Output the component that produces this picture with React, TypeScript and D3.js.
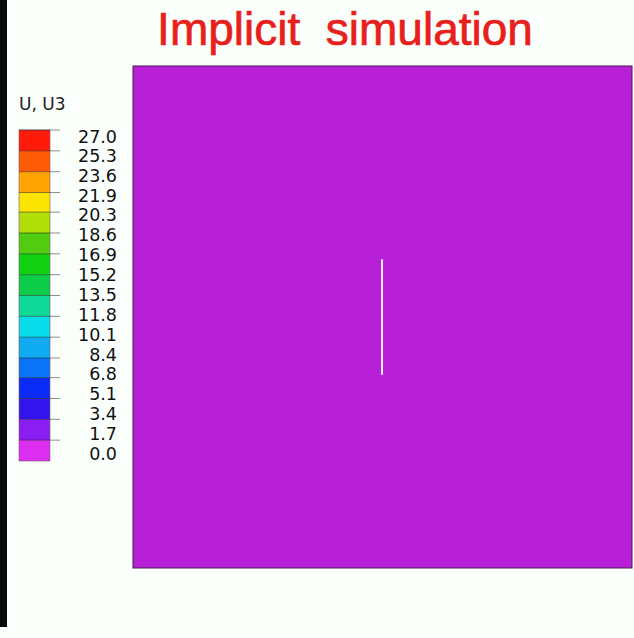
import React from "react";
import * as d3 from "d3";

const legendTitle = "U, U3";
const title = "Implicit  simulation";
const tickValues = [0.0, 1.7, 3.4, 5.1, 6.8, 8.4, 10.1, 11.8, 13.5, 15.2, 16.9, 18.6, 20.3, 21.9, 23.6, 25.3, 27.0];
const bandColors = [
  "#dc2ef0", "#8a1ef2", "#3414ee", "#0a2cf6", "#0a74f8", "#10aaf0", "#08dcea", "#10d898",
  "#0ccc48", "#10d010", "#52cc10", "#b2de0a", "#fbe400", "#ffa400", "#ff5a06", "#ff1a0a",
];
const crackStart = [0.5, 0.385];
const crackEnd = [0.5, 0.615];

export default function App() {
  const W = 634, H = 638;
  const y = d3.scaleLinear().domain([0, 27]).range([461, 130]);
  const yLabel = d3.scaleLinear().domain([0, 27]).range([453, 136]);
  const px = d3.scaleLinear().domain([0, 1]).range([133, 632]);
  const py = d3.scaleLinear().domain([0, 1]).range([66, 568]);
  const bands = d3.pairs(tickValues);
  return (
    <svg width={W} height={H} style={{ position: "absolute", left: 0, top: 0 }}>
      <rect x={0} y={0} width={W} height={H} fill="#fbfffb" />
      <rect x={0} y={0} width={7} height={627} fill="#0a0a0a" />
      <text x={345} y={45} textAnchor="middle" fill="#e8201c" stroke="#e8201c" strokeWidth={0.7} fontFamily="'Liberation Sans', Arial, sans-serif" fontSize={46} style={{ whiteSpace: "pre" }}>{title}</text>
      <text x={19} y={110} fill="#222" fontFamily="'DejaVu Sans', sans-serif" fontSize={17}>{legendTitle}</text>
      {bands.map(([a, b], i) => (
        <rect key={i} x={19} y={y(b)} width={31} height={y(a) - y(b)} fill={bandColors[i]} />
      ))}
      <rect x={19} y={y(27)} width={31} height={y(0) - y(27)} fill="none" stroke="#7a5a7a" strokeWidth={0.6} />
      {tickValues.slice(1).map((v, i) => (
        <line key={i} x1={19} x2={60} y1={y(v)} y2={y(v)} stroke="#111" strokeWidth={0.8} strokeOpacity={0.6} />
      ))}
      {tickValues.map((v, i) => (
        <text key={i} x={117} y={yLabel(v) + 6.5} textAnchor="end" fill="#111" fontFamily="'DejaVu Sans', sans-serif" fontSize={17.5}>{v.toFixed(1)}</text>
      ))}
      <rect x={px(0)} y={py(0)} width={px(1) - px(0)} height={py(1) - py(0)} fill="#b820d8" stroke="#4a1a50" strokeWidth={1} />
      <line x1={px(crackStart[0]) - 0.5} x2={px(crackEnd[0]) - 0.5} y1={py(crackStart[1])} y2={py(crackEnd[1])} stroke="#f4eef6" strokeWidth={2} />
    </svg>
  );
}
